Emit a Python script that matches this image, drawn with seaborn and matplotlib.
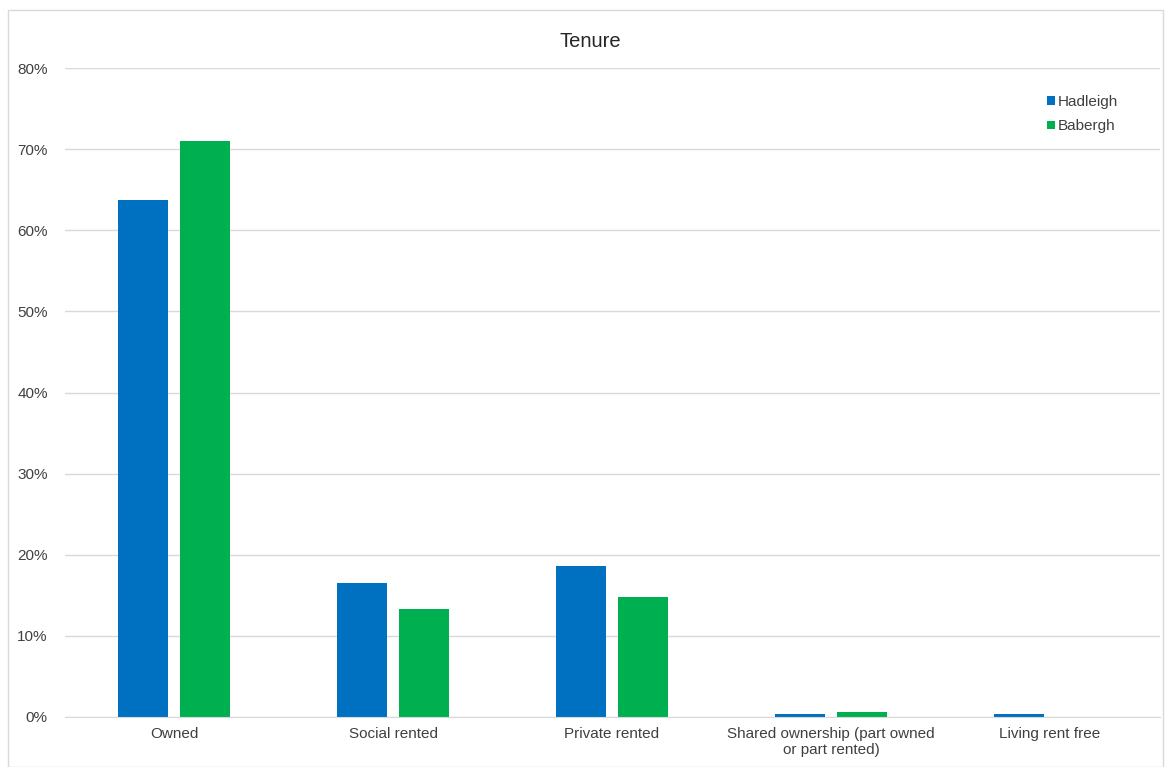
import matplotlib
matplotlib.use("Agg")
import matplotlib.pyplot as plt
import seaborn as sns
import pandas as pd
from matplotlib.patches import Rectangle
from matplotlib.ticker import FuncFormatter, MultipleLocator

categories = ["Owned", "Social rented", "Private rented",
              "Shared ownership (part owned\nor part rented)", "Living rent free"]
hadleigh = [63.7, 16.5, 18.6, 0.4, 0.4]
babergh = [71.0, 13.3, 14.8, 0.6, 0.0]
series = ["Hadleigh", "Babergh"]
colors = ["#0070C0", "#00B050"]

df = pd.DataFrame({
    "Tenure": categories * 2,
    "Value": hadleigh + babergh,
    "Area": [series[0]] * len(categories) + [series[1]] * len(categories),
})

sns.set_style("white")
plt.rcParams["font.family"] = ["Liberation Sans", "DejaVu Sans"]

fig = plt.figure(figsize=(11.67, 7.67), dpi=100)
ax = fig.add_axes([0.0553, 0.0652, 0.9383, 0.8461])

sns.barplot(data=df, x="Tenure", y="Value", hue="Area", palette=colors,
            width=0.57, gap=0.2, ax=ax, legend=True, saturation=1, linewidth=0)

ax.set_xlim(-0.5, 4.5)
ax.set_ylim(0, 80)
ax.yaxis.set_major_locator(MultipleLocator(10))
ax.yaxis.set_major_formatter(FuncFormatter(lambda v, p: f"{int(v)}%"))
ax.grid(axis="y", color="#D9D9D9", linewidth=1)
ax.set_axisbelow(True)
for s in ["top", "right", "left"]:
    ax.spines[s].set_visible(False)
ax.spines["bottom"].set_color("#D9D9D9")
ax.tick_params(axis="both", length=0, colors="#404040", labelsize=11)
ax.tick_params(axis="x", pad=7)
ax.tick_params(axis="y", pad=12)
ax.set_xlabel("")
ax.set_ylabel("")

fig.text(0.506, 0.946, "Tenure", ha="center", va="center", fontsize=14.5, color="#262626")

leg = ax.legend(loc="upper right", bbox_to_anchor=(0.975, 0.98), frameon=False,
                fontsize=11, handlelength=0.5, handleheight=0.5, handletextpad=0.2,
                labelspacing=0.7)
for t in leg.get_texts():
    t.set_color("#404040")

fig.patches.append(Rectangle((0.007, 0.0), 0.99, 0.987, transform=fig.transFigure,
                             fill=False, edgecolor="#D9D9D9", linewidth=1))

fig.savefig("out.png", dpi=100, facecolor="white")
